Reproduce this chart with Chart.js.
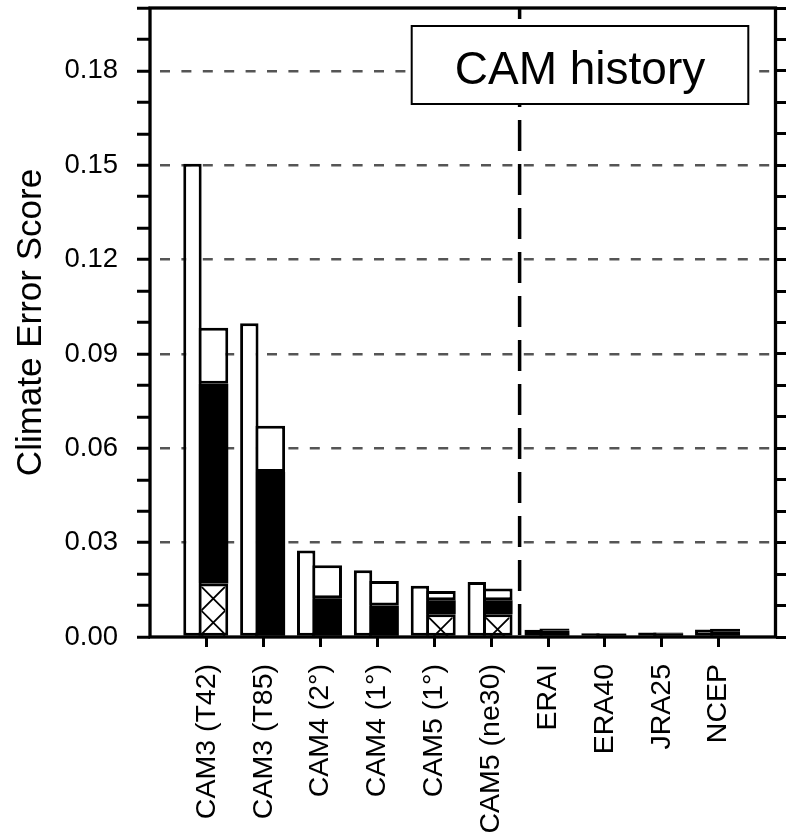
<!DOCTYPE html>
<html lang="en">
<head>
    <meta charset="UTF-8">
    <title>CAM history</title>
    <script src="https://cdn.jsdelivr.net/npm/chart.js"></script>
    <style>
        body {
            margin: 0;
            background-color: white;
        }
        .chart-container {
            position: relative;
            width: 786px;
            height: 839px;
        }
    </style>
</head>
<body>
    <div class="chart-container">
        <canvas id="myChart"></canvas>
    </div>

    <script>
        // values
        const categories = ['CAM3 (T42)', 'CAM3 (T85)', 'CAM4 (2°)', 'CAM4 (1°)', 'CAM5 (1°)', 'CAM5 (ne30)', 'ERAI', 'ERA40', 'JRA25', 'NCEP'];
        const totalScore = [0.1505, 0.0998, 0.0275, 0.0212, 0.0163, 0.0175, 0.0023, 0.0012, 0.0014, 0.0024];
        const hatchedPart = [0.0170, 0, 0, 0, 0.0072, 0.0072, 0, 0, 0, 0];
        const blackPart = [0.0635, 0.0525, 0.0123, 0.0100, 0.0045, 0.0045, 0.0020, 0.0010, 0.0012, 0.0018];
        const whitePart = [0.0178, 0.0147, 0.0105, 0.0078, 0.0029, 0.0037, 0.0007, 0.0002, 0.0002, 0.0008];
        const yTickLabels = ['0.00', '0.03', '0.06', '0.09', '0.12', '0.15', '0.18'];
        const yMax = 0.2;
        const yMinorStep = 0.01;
        const boxText = 'CAM history';
        const yTitle = 'Climate Error Score';

        const FONT = "'Liberation Sans', Arial, Helvetica, sans-serif";
        Chart.defaults.font.family = FONT;
        Chart.defaults.color = '#000';

        // half a category of empty space on each side of the frame
        const pad = arr => [null, ...arr, null];
        const labels = ['', ...categories, ''];
        const isMajor = v => yTickLabels.includes(v.toFixed(2));

        const minorTicks = scale => {
            scale.ticks = [];
            for (let i = 0; i <= Math.round(yMax / yMinorStep); i++) {
                scale.ticks.push({ value: i * yMinorStep });
            }
        };

        // fixed box sizes, no extra label padding around the plot
        const fixSize = (w, h) => s => {
            if (w !== null) s.width = w;
            if (h !== null) s.height = h;
            s.paddingTop = s.paddingBottom = s.paddingLeft = s.paddingRight = 0;
        };

        const barStyle = {
            borderColor: '#000',
            borderWidth: 3,
            borderSkipped: false,
            categoryPercentage: 0.45,
            barPercentage: 2.344,
            stack: 'parts'
        };

        const decor = {
            id: 'decor',
            afterDatasetsDraw(chart) {
                const c = chart.ctx;
                const area = chart.chartArea;
                const x = chart.scales.x;

                // cross hatching in the bottom part of the stacked bars
                const meta = chart.getDatasetMeta(1);
                meta.data.forEach((bar, i) => {
                    const v = chart.data.datasets[1].data[i];
                    if (!v) return;
                    const p = bar.getProps(['x', 'y', 'base', 'width'], true);
                    const left = p.x - p.width / 2 + 3;
                    const right = p.x + p.width / 2 - 3;
                    const top = p.y + 3;
                    const bottom = p.base;
                    const s = right - left;
                    c.save();
                    c.beginPath();
                    c.rect(left, top, s, bottom - top);
                    c.clip();
                    c.strokeStyle = '#000';
                    c.lineWidth = 1.8;
                    c.beginPath();
                    for (let yy = top; yy < bottom; yy += s) {
                        c.moveTo(left, yy);
                        c.lineTo(right, yy + s);
                        c.moveTo(right, yy);
                        c.lineTo(left, yy + s);
                    }
                    c.stroke();
                    c.restore();
                });

                // dashed separator between models and reanalyses
                const sepX = (x.getPixelForValue(6) + x.getPixelForValue(7)) / 2;
                c.save();
                c.strokeStyle = '#000';
                c.lineWidth = 3.5;
                c.setLineDash([31, 13]);
                c.lineDashOffset = 20;
                c.beginPath();
                c.moveTo(sepX, area.top);
                c.lineTo(sepX, area.bottom);
                c.stroke();
                c.restore();

                // frame
                c.save();
                c.strokeStyle = '#000';
                c.lineWidth = 3.3;
                c.strokeRect(area.left, area.top, area.right - area.left, area.bottom - area.top);
                c.restore();

                // label box
                const bw = 336.6, bh = 78;
                const bx = area.right - 27.2 - bw;
                const by = area.top + 18;
                c.save();
                c.fillStyle = '#fff';
                c.fillRect(bx, by, bw, bh);
                c.strokeStyle = '#000';
                c.lineWidth = 2;
                c.strokeRect(bx, by, bw, bh);
                c.fillStyle = '#000';
                c.font = '46px ' + FONT;
                c.textAlign = 'center';
                c.textBaseline = 'alphabetic';
                c.fillText(boxText, bx + bw / 2, by + 57.5);
                c.restore();
            }
        };

        const ctx = document.getElementById('myChart').getContext('2d');
        new Chart(ctx, {
            type: 'bar',
            data: {
                labels: labels,
                datasets: [
                    {
                        label: 'Total',
                        data: pad(totalScore),
                        backgroundColor: '#fff',
                        borderColor: '#000',
                        borderWidth: 3,
                        borderSkipped: false,
                        categoryPercentage: 1.013,
                        barPercentage: 0.639,
                        stack: 'total'
                    },
                    { ...barStyle, label: 'Hatched', data: pad(hatchedPart), backgroundColor: '#fff' },
                    { ...barStyle, label: 'Black', data: pad(blackPart), backgroundColor: '#000', borderWidth: 0 },
                    { ...barStyle, label: 'White', data: pad(whitePart), backgroundColor: '#fff' }
                ]
            },
            options: {
                responsive: true,
                maintainAspectRatio: false,
                animation: false,
                layout: { padding: { left: 0, right: 0, top: 8, bottom: 0 } },
                plugins: {
                    legend: { display: false },
                    tooltip: { enabled: false }
                },
                scales: {
                    x: {
                        type: 'category',
                        offset: false,
                        grid: {
                            offset: false,
                            drawOnChartArea: false,
                            tickLength: 10,
                            tickWidth: 3,
                            tickColor: c => (c.index === 0 || c.index === labels.length - 1) ? 'rgba(0,0,0,0)' : '#000'
                        },
                        border: { display: false },
                        ticks: {
                            autoSkip: false,
                            minRotation: 90,
                            maxRotation: 90,
                            padding: 17,
                            color: '#000',
                            font: { size: 28.5 }
                        },
                        afterFit: fixSize(null, 202)
                    },
                    y: {
                        type: 'linear',
                        min: 0,
                        max: yMax,
                        stacked: true,
                        afterBuildTicks: minorTicks,
                        grid: {
                            color: c => (c.tick && c.tick.value > 0 && isMajor(c.tick.value)) ? '#555' : 'rgba(0,0,0,0)',
                            lineWidth: 2.5,
                            tickColor: '#000',
                            tickLength: 13,
                            tickWidth: 3
                        },
                        border: { display: false, dash: [10, 11.4], dashOffset: 11.4 },
                        ticks: {
                            autoSkip: false,
                            padding: 19,
                            color: '#000',
                            font: { size: 27.5 },
                            callback: v => isMajor(v) ? v.toFixed(2) : ''
                        },
                        title: {
                            display: true,
                            text: yTitle,
                            color: '#000',
                            font: { size: 35 },
                            padding: { top: 10, bottom: 0 }
                        },
                        afterFit: fixSize(150, null)
                    },
                    y2: {
                        type: 'linear',
                        position: 'right',
                        min: 0,
                        max: yMax,
                        afterBuildTicks: minorTicks,
                        grid: {
                            drawOnChartArea: false,
                            tickColor: '#000',
                            tickLength: 11,
                            tickWidth: 3
                        },
                        border: { display: false },
                        ticks: { display: false },
                        afterFit: fixSize(10.5, null)
                    }
                }
            },
            plugins: [decor]
        });
    </script>
</body>
</html>
